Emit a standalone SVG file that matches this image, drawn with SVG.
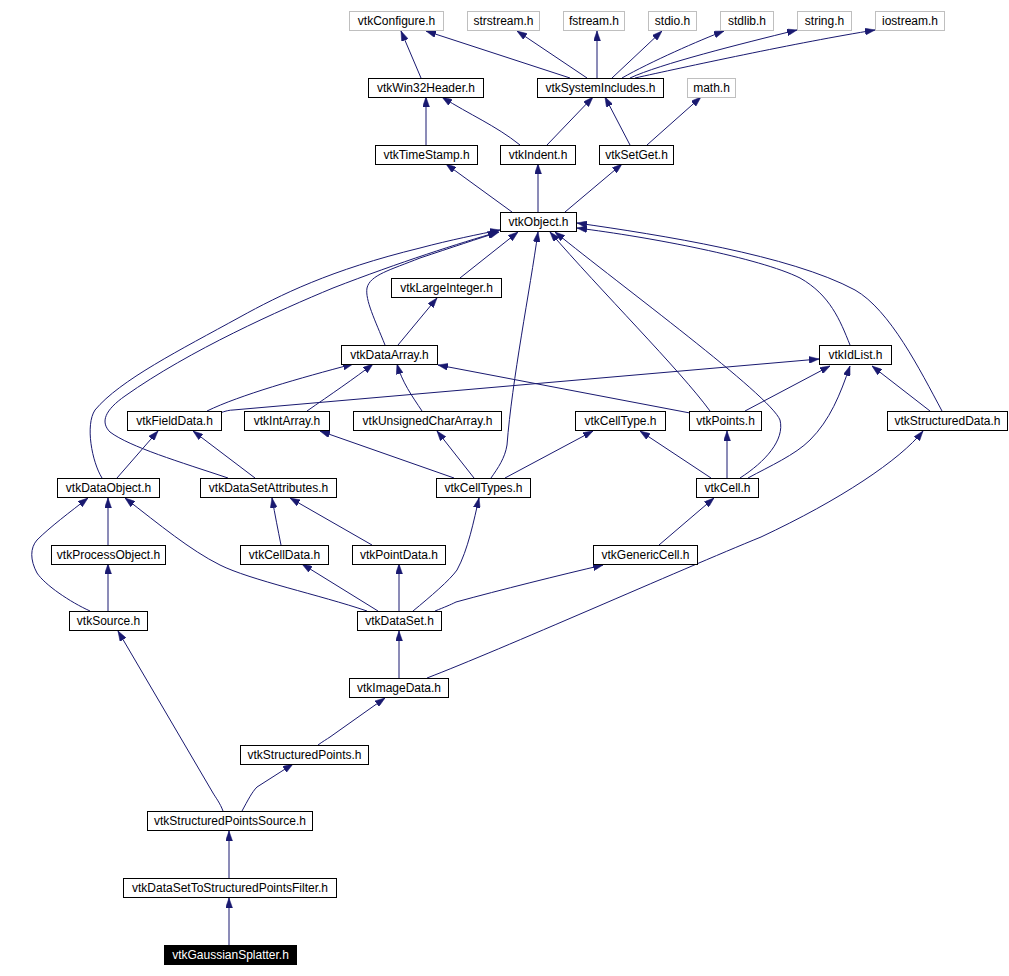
<svg xmlns="http://www.w3.org/2000/svg" width="1009" height="976" viewBox="0 0 1009 976">
<defs>
<style>
.n rect{fill:#fff;stroke:#000;stroke-width:1}
.g rect{fill:#fff;stroke:#bfbfbf;stroke-width:1}
.h rect{fill:#000;stroke:#000}
text{font-family:"Liberation Sans",Arial,sans-serif;font-size:12px;text-anchor:middle;fill:#000}
.h text{fill:#fff}
#edges path{fill:none;stroke:#191970;stroke-width:1;marker-end:url(#a)}
</style>
<marker id="a" viewBox="0 0 10 7" refX="10" refY="3.5" markerWidth="10" markerHeight="7" markerUnits="userSpaceOnUse" orient="auto">
<path d="M0,0 L10,3.5 L0,7 z" fill="#191970" stroke="#191970" stroke-width="0.5"/>
</marker>
</defs>
<rect width="1009" height="976" fill="#fff"/>
<g id="edges">
<path d="M421,78 L401,31"/>
<path d="M570,78 L426,31"/>
<path d="M587,78 L517,31"/>
<path d="M597,78 L597,31"/>
<path d="M612,78 L662,31"/>
<path d="M622,78 C650,62 700,40 724,31"/>
<path d="M630,78 C660,64 740,44 797,30"/>
<path d="M635,78 C680,68 800,42 875,30"/>
<path d="M647,145 L701,97"/>
<path d="M426,145 L426,97"/>
<path d="M520,145 C495,125 470,115 442,97"/>
<path d="M547,145 L593,97"/>
<path d="M630,145 L605,97"/>
<path d="M512,212 L446,164"/>
<path d="M538,212 L538,164"/>
<path d="M565,212 L622,164"/>
<path d="M102,478 C92,462 85,425 95,410 C120,380 180,350 240,317 C280,295 330,270 420,248 C450,240 480,234 500,230"/>
<path d="M228,478 C180,462 130,447 110,432 C100,422 105,410 125,396 C190,350 280,310 333,288 C400,262 460,243 498,232"/>
<path d="M385,345 C375,320 365,300 367,288 C370,275 390,270 420,258 C450,248 480,238 499,232"/>
<path d="M460,278 L518,232"/>
<path d="M491,478 C498,468 505,458 507,445 C512,380 530,290 538,232"/>
<path d="M710,411 C680,370 600,290 550,232"/>
<path d="M740,478 C765,462 785,440 780,420 C770,395 620,285 555,232"/>
<path d="M850,345 C840,320 830,295 800,278 C760,258 650,237 577,228"/>
<path d="M942,411 C920,370 890,310 855,290 C790,255 660,235 577,223"/>
<path d="M398,345 L437,298"/>
<path d="M207,411 C240,395 300,378 353,364"/>
<path d="M307,411 C330,395 355,378 373,364"/>
<path d="M422,411 C412,396 402,382 397,364"/>
<path d="M690,413 L438,365"/>
<path d="M220,413 C225,411 230,410 233,410 L819,359"/>
<path d="M745,411 L830,366"/>
<path d="M748,478 C770,466 795,455 810,440 C830,420 840,395 850,366"/>
<path d="M930,411 L872,366"/>
<path d="M117,478 L158,431"/>
<path d="M255,478 L193,431"/>
<path d="M454,478 L320,431"/>
<path d="M474,478 L437,431"/>
<path d="M505,478 L593,431"/>
<path d="M711,478 L640,431"/>
<path d="M727,478 L727,431"/>
<path d="M427,678 C500,650 680,570 761,537 C840,500 900,460 923,431"/>
<path d="M108,545 L108,498"/>
<path d="M108,611 L108,564"/>
<path d="M90,611 C70,602 45,585 37,573 C30,560 30,548 37,540 C50,527 70,512 88,498"/>
<path d="M367,611 C320,595 250,580 220,565 C190,550 160,525 125,498"/>
<path d="M281,545 C278,530 275,515 272,498"/>
<path d="M372,545 L290,498"/>
<path d="M378,611 L302,564"/>
<path d="M399,611 L399,564"/>
<path d="M413,611 C430,597 450,580 457,570 C468,550 474,520 479,498"/>
<path d="M435,611 C445,607 450,605 456,602 C500,590 560,575 603,565"/>
<path d="M659,545 L714,498"/>
<path d="M399,678 L399,631"/>
<path d="M318,745 C322,742 327,739 330,737 L385,698"/>
<path d="M242,811 C248,800 252,792 257,787 L293,764"/>
<path d="M223,811 C220,803 216,798 213,793 L118,631"/>
<path d="M229,878 L229,831"/>
<path d="M229,945 L229,898"/>
</g>
<g id="vtkConfigure" class="g"><rect x="349.5" y="11.5" width="94" height="19"/><text x="396.5" y="25">vtkConfigure.h</text></g>
<g id="strstream" class="g"><rect x="467.5" y="11.5" width="72" height="19"/><text x="503.5" y="25">strstream.h</text></g>
<g id="fstream" class="g"><rect x="563.5" y="11.5" width="61" height="19"/><text x="594" y="25">fstream.h</text></g>
<g id="stdio" class="g"><rect x="648.5" y="11.5" width="48" height="19"/><text x="672.5" y="25">stdio.h</text></g>
<g id="stdlib" class="g"><rect x="720.5" y="11.5" width="53" height="19"/><text x="747" y="25">stdlib.h</text></g>
<g id="string" class="g"><rect x="797.5" y="11.5" width="54" height="19"/><text x="824.5" y="25">string.h</text></g>
<g id="iostream" class="g"><rect x="875.5" y="11.5" width="69" height="19"/><text x="910" y="25">iostream.h</text></g>
<g id="vtkWin32Header" class="n"><rect x="368.5" y="78.5" width="115" height="19"/><text x="426" y="92">vtkWin32Header.h</text></g>
<g id="vtkSystemIncludes" class="n"><rect x="537.5" y="78.5" width="126" height="19"/><text x="600.5" y="92">vtkSystemIncludes.h</text></g>
<g id="math" class="g"><rect x="687.5" y="78.5" width="48" height="19"/><text x="711.5" y="92">math.h</text></g>
<g id="vtkTimeStamp" class="n"><rect x="375.5" y="145.5" width="102" height="19"/><text x="426.5" y="159">vtkTimeStamp.h</text></g>
<g id="vtkIndent" class="n"><rect x="500.5" y="145.5" width="75" height="19"/><text x="538" y="159">vtkIndent.h</text></g>
<g id="vtkSetGet" class="n"><rect x="599.5" y="145.5" width="74" height="19"/><text x="636.5" y="159">vtkSetGet.h</text></g>
<g id="vtkObject" class="n"><rect x="500.5" y="212.5" width="76" height="19"/><text x="538.5" y="226">vtkObject.h</text></g>
<g id="vtkLargeInteger" class="n"><rect x="391.5" y="278.5" width="110" height="19"/><text x="446.5" y="292">vtkLargeInteger.h</text></g>
<g id="vtkDataArray" class="n"><rect x="341.5" y="345.5" width="96" height="19"/><text x="389.5" y="359">vtkDataArray.h</text></g>
<g id="vtkIdList" class="n"><rect x="819.5" y="345.5" width="72" height="19"/><text x="855.5" y="359">vtkIdList.h</text></g>
<g id="vtkFieldData" class="n"><rect x="127.5" y="411.5" width="94" height="19"/><text x="174.5" y="425">vtkFieldData.h</text></g>
<g id="vtkIntArray" class="n"><rect x="244.5" y="411.5" width="85" height="19"/><text x="287" y="425">vtkIntArray.h</text></g>
<g id="vtkUnsignedCharArray" class="n"><rect x="353.5" y="411.5" width="148" height="19"/><text x="427.5" y="425">vtkUnsignedCharArray.h</text></g>
<g id="vtkCellType" class="n"><rect x="575.5" y="411.5" width="90" height="19"/><text x="620.5" y="425">vtkCellType.h</text></g>
<g id="vtkPoints" class="n"><rect x="689.5" y="411.5" width="72" height="19"/><text x="725.5" y="425">vtkPoints.h</text></g>
<g id="vtkStructuredData" class="n"><rect x="887.5" y="411.5" width="120" height="19"/><text x="947.5" y="425">vtkStructuredData.h</text></g>
<g id="vtkDataObject" class="n"><rect x="57.5" y="478.5" width="102" height="19"/><text x="108.5" y="492">vtkDataObject.h</text></g>
<g id="vtkDataSetAttributes" class="n"><rect x="200.5" y="478.5" width="136" height="19"/><text x="268.5" y="492">vtkDataSetAttributes.h</text></g>
<g id="vtkCellTypes" class="n"><rect x="436.5" y="478.5" width="94" height="19"/><text x="483.5" y="492">vtkCellTypes.h</text></g>
<g id="vtkCell" class="n"><rect x="696.5" y="478.5" width="62" height="19"/><text x="727.5" y="492">vtkCell.h</text></g>
<g id="vtkProcessObject" class="n"><rect x="51.5" y="545.5" width="114" height="19"/><text x="108.5" y="559">vtkProcessObject.h</text></g>
<g id="vtkCellData" class="n"><rect x="240.5" y="545.5" width="88" height="19"/><text x="284.5" y="559">vtkCellData.h</text></g>
<g id="vtkPointData" class="n"><rect x="352.5" y="545.5" width="93" height="19"/><text x="399" y="559">vtkPointData.h</text></g>
<g id="vtkGenericCell" class="n"><rect x="593.5" y="545.5" width="104" height="19"/><text x="645.5" y="559">vtkGenericCell.h</text></g>
<g id="vtkSource" class="n"><rect x="69.5" y="611.5" width="78" height="19"/><text x="108.5" y="625">vtkSource.h</text></g>
<g id="vtkDataSet" class="n"><rect x="357.5" y="611.5" width="84" height="19"/><text x="399.5" y="625">vtkDataSet.h</text></g>
<g id="vtkImageData" class="n"><rect x="349.5" y="678.5" width="99" height="19"/><text x="399" y="692">vtkImageData.h</text></g>
<g id="vtkStructuredPoints" class="n"><rect x="240.5" y="745.5" width="128" height="19"/><text x="304.5" y="759">vtkStructuredPoints.h</text></g>
<g id="vtkStructuredPointsSource" class="n"><rect x="147.5" y="811.5" width="165" height="19"/><text x="230" y="825">vtkStructuredPointsSource.h</text></g>
<g id="vtkDataSetToStructuredPointsFilter" class="n"><rect x="123.5" y="878.5" width="213" height="19"/><text x="230" y="892">vtkDataSetToStructuredPointsFilter.h</text></g>
<g id="vtkGaussianSplatter" class="h"><rect x="164.5" y="945.5" width="132" height="19"/><text x="230.5" y="959">vtkGaussianSplatter.h</text></g>
</svg>
